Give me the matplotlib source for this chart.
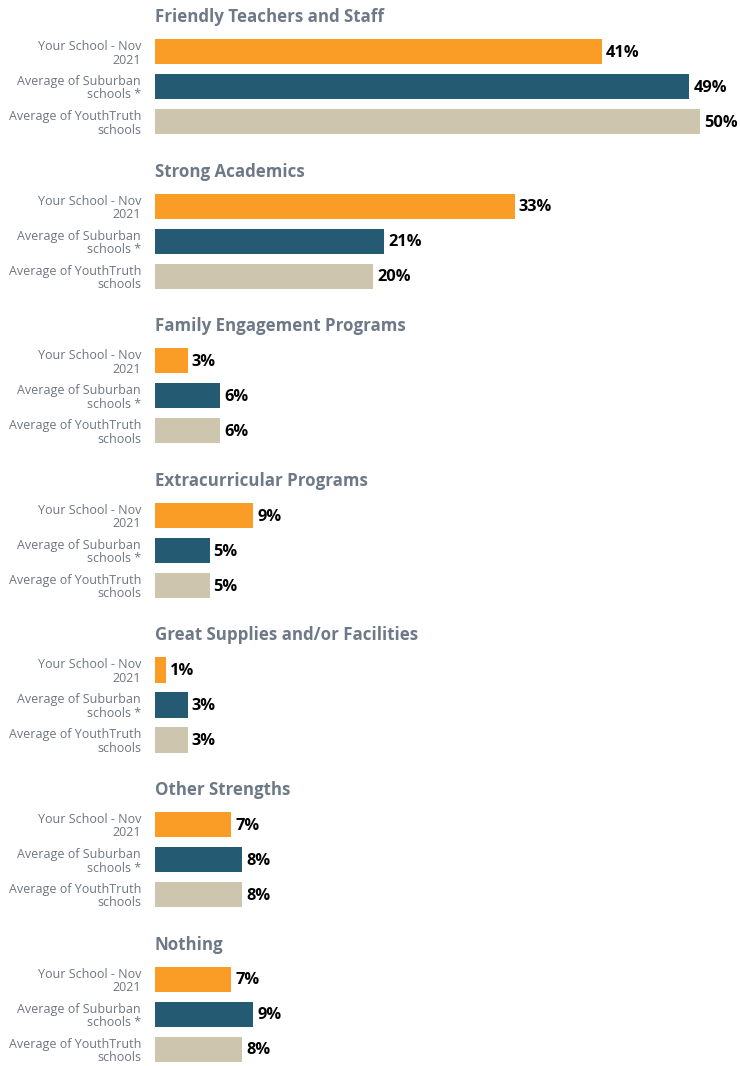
import matplotlib
matplotlib.use("Agg")
import matplotlib.pyplot as plt

plt.rcParams['font.family'] = ['Open Sans', 'DejaVu Sans']

categories = ["Friendly Teachers and Staff", "Strong Academics", "Family Engagement Programs",
              "Extracurricular Programs", "Great Supplies and/or Facilities", "Other Strengths", "Nothing"]
series_labels = ["Your School - Nov\n2021", "Average of Suburban\nschools *", "Average of YouthTruth\nschools"]
your_school = [41, 33, 3, 9, 1, 7, 7]
suburban = [49, 21, 6, 5, 3, 8, 9]
youthtruth = [50, 20, 6, 5, 3, 8, 8]
colors = ["#F99D27", "#245A72", "#CEC5AF"]

W, H = 740, 1066
fig = plt.figure(figsize=(W / 100, H / 100), dpi=100)

x0, x1 = 155, 700          # pixel span for 0..50%
first_top = 34             # top of first group's axes (px)
step = 154.6               # vertical distance between groups (px)
ax_h = 105                 # axes height (px)

for k, cat in enumerate(categories):
    top = first_top + k * step
    ax = fig.add_axes([x0 / W, 1 - (top + ax_h) / H, (x1 - x0) / W, ax_h / H])
    vals = [your_school[k], suburban[k], youthtruth[k]]
    ypos = [0, 1, 2]
    ax.barh(ypos, vals, height=0.72, color=colors)
    ax.set_xlim(0, 50)
    ax.set_ylim(2.5, -0.5)
    for s in ax.spines.values():
        s.set_visible(False)
    ax.set_xticks([])
    ax.set_yticks(ypos)
    ax.set_yticklabels(series_labels, fontsize=9.0, color="#6E7680", linespacing=1.05, ha='right')
    ax.tick_params(axis='y', length=0, pad=10)
    for y, v in zip(ypos, vals):
        ax.annotate(f"{v}%", (v, y), xytext=(3, -1), textcoords='offset points',
                    va='center', ha='left', fontsize=11.8, fontweight='bold', color='black',
                    annotation_clip=False)
    fig.text(x0 / W, 1 - (top - 17) / H, cat, fontsize=12.2, fontweight='bold',
             color="#6E7987", ha='left', va='center')

fig.savefig("out.png", dpi=100)
